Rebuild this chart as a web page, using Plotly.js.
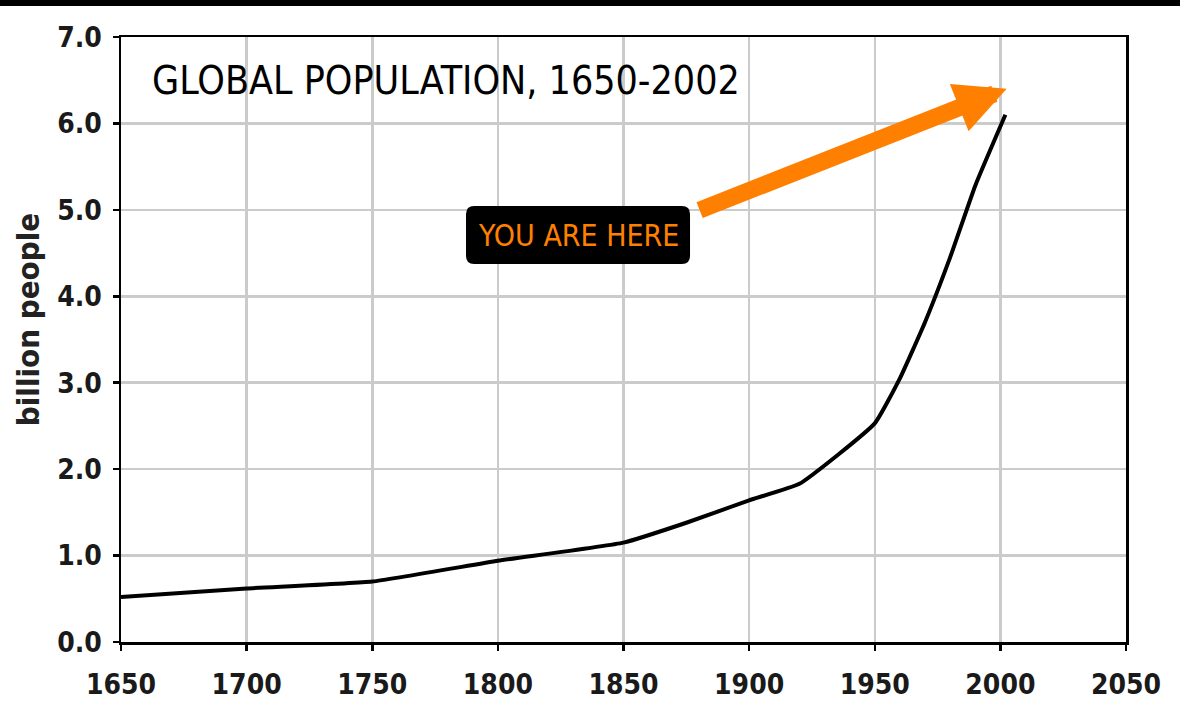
<!DOCTYPE html>
<html>
<head>
<meta charset="utf-8">
<script src="https://cdn.plot.ly/plotly-3.0.1.min.js"></script>
<style>
  html, body { margin: 0; padding: 0; background: #fff; }
  #chart { width: 1180px; height: 715px; }
</style>
</head>
<body>
<div id="chart"></div>
<script>
// Data
const years = [1650, 1700, 1750, 1800, 1850, 1875, 1900, 1920, 1950, 1960, 1970, 1980, 1990, 2002];
const population = [0.52, 0.62, 0.70, 0.94, 1.15, 1.38, 1.64, 1.83, 2.53, 3.05, 3.70, 4.45, 5.28, 6.10];
const xTicks = [1650, 1700, 1750, 1800, 1850, 1900, 1950, 2000, 2050];
const yTicks = [0, 1, 2, 3, 4, 5, 6, 7];
const yTickLabels = ['0.0', '1.0', '2.0', '3.0', '4.0', '5.0', '6.0', '7.0'];
const chartTitle = 'GLOBAL POPULATION, 1650-2002';
const yTitle = 'billion people';
const calloutText = 'YOU ARE HERE';

const ORANGE = '#ff8000';
const FONT = 'DejaVu Sans Condensed, DejaVu Sans, sans-serif';
const tickFont = { family: FONT, size: 28, color: '#1a1a1a', weight: 'bold' };

const trace = {
  x: years,
  y: population,
  type: 'scatter',
  mode: 'lines',
  line: { color: '#000', width: 4, shape: 'spline', smoothing: 0.4 },
  hoverinfo: 'x+y',
  showlegend: false
};

// rounded box (paper coordinates)
const bx0 = 0.3433, bx1 = 0.5662, by0 = 0.6248, by1 = 0.7207, rx = 0.008, ry = 0.0132;
const roundedBox = `M ${bx0 + rx},${by0} L ${bx1 - rx},${by0} Q ${bx1},${by0} ${bx1},${by0 + ry} ` +
  `L ${bx1},${by1 - ry} Q ${bx1},${by1} ${bx1 - rx},${by1} L ${bx0 + rx},${by1} ` +
  `Q ${bx0},${by1} ${bx0},${by1 - ry} L ${bx0},${by0 + ry} Q ${bx0},${by0} ${bx0 + rx},${by0} Z`;

const layout = {
  width: 1180,
  height: 715,
  margin: { l: 121, r: 54, t: 37, b: 73, pad: 0 },
  paper_bgcolor: '#fff',
  plot_bgcolor: '#fff',
  title: {
    text: chartTitle,
    xref: 'paper', x: 0.0308, xanchor: 'left',
    yref: 'paper', y: 0.929, yanchor: 'middle',
    font: { family: FONT, size: 39, color: '#000' }
  },
  xaxis: {
    range: [1650, 2050],
    tickvals: xTicks,
    ticktext: xTicks.map(String),
    showgrid: true, gridcolor: '#cbcbcb', gridwidth: 2.5,
    zeroline: false,
    showline: true, linecolor: '#000', linewidth: 2.5, mirror: true,
    ticks: 'outside', ticklen: 6, tickwidth: 2.5, tickcolor: '#000',
    tickfont: tickFont, ticklabelstandoff: 10,
    fixedrange: true
  },
  yaxis: {
    range: [0, 7],
    tickvals: yTicks,
    ticktext: yTickLabels,
    showgrid: true, gridcolor: '#cbcbcb', gridwidth: 2.5,
    zeroline: false,
    showline: true, linecolor: '#000', linewidth: 2.5, mirror: true,
    ticks: 'outside', ticklen: 6, tickwidth: 2.5, tickcolor: '#000',
    tickfont: tickFont, ticklabelstandoff: 5,
    fixedrange: true
  },
  shapes: [
    { type: 'rect', xref: 'paper', yref: 'paper', x0: -0.2, x1: 1.1, y0: 1.0512, y1: 1.09,
      fillcolor: '#000', line: { width: 0 }, layer: 'above' },
    { type: 'path', xref: 'paper', yref: 'paper', path: roundedBox,
      fillcolor: '#000', line: { width: 0 }, layer: 'above' }
  ],
  annotations: [
    {
      text: yTitle, xref: 'paper', yref: 'paper', x: -0.0925, y: 0.532,
      xanchor: 'center', yanchor: 'middle', textangle: -90, showarrow: false,
      font: { family: FONT, size: 31, color: '#222', weight: 'bold' }
    },
    {
      text: calloutText, xref: 'paper', yref: 'paper', x: 0.4557, y: 0.6727,
      xanchor: 'center', yanchor: 'middle', showarrow: false,
      font: { family: FONT, size: 30, color: ORANGE }
    },
    {
      text: ' ', x: 2002.5, y: 6.40, xref: 'x', yref: 'y',
      ax: 1879.7, ay: 4.99, axref: 'x', ayref: 'y',
      showarrow: true, arrowhead: 2, arrowsize: 0.6, arrowwidth: 17, arrowcolor: ORANGE,
      standoff: 0, startstandoff: 0, font: { size: 1 }
    }
  ]
};

Plotly.newPlot('chart', [trace], layout, { displayModeBar: false, staticPlot: true });
</script>
</body>
</html>
